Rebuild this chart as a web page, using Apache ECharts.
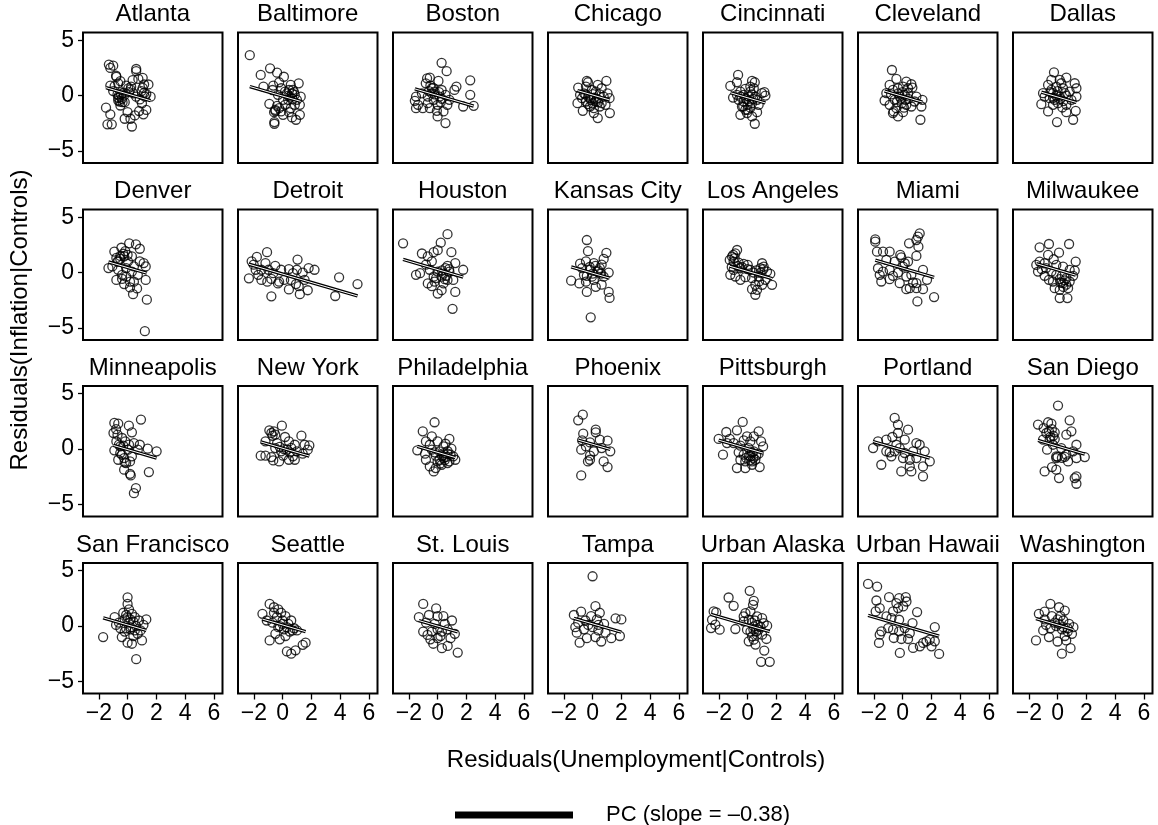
<!DOCTYPE html>
<html>
<head>
<meta charset="utf-8">
<title>Residuals by metro area</title>
<script src="https://cdn.jsdelivr.net/npm/echarts@6/dist/echarts.min.js"></script>
<style>
  html, body { margin: 0; padding: 0; background: #fff; }
  #chart { width: 1158px; height: 825px; }
</style>
</head>
<body>
<div id="chart"></div>
<script>
// ---- data ----------------------------------------------------------
const cities = ['Atlanta', 'Baltimore', 'Boston', 'Chicago', 'Cincinnati', 'Cleveland', 'Dallas',
  'Denver', 'Detroit', 'Houston', 'Kansas City', 'Los Angeles', 'Miami', 'Milwaukee',
  'Minneapolis', 'New York', 'Philadelphia', 'Phoenix', 'Pittsburgh', 'Portland', 'San Diego',
  'San Francisco', 'Seattle', 'St. Louis', 'Tampa', 'Urban Alaska', 'Urban Hawaii', 'Washington'];

const xTicks = [-2, 0, 2, 4, 6];
const yTicks = [-5, 0, 5];
const pcSlope = -0.38;
const pcLabel = 'PC (slope = \u20130.38)';

// intercept of the pooled-slope line in each city
const lineIntercepts = [0.14, -0.05, 0, 0.05, -0.2, -0.07, -0.13,
  0.45, -0.14, 0.27, -0.06, 0.1, 0.4, 0.24,
  -0.05, 0.07, -0.3, 0.43, 0.04, -0.1, 0.26,
  0.1, 0.1, 0, 0.2, 0.08, 0.05, 0.1];

// [unemployment residual, inflation residual]
const atlanta = [[-1.3,2.8],[-1.0,2.7],[-1.2,2.5],[-0.8,1.8],[-0.5,1.3],[-1.2,0.9],[-1.0,0.4],[-0.7,0.1],[-0.65,-0.2],[-0.4,-0.3],[-0.5,-0.9],[-0.2,-0.6],[-0.25,0],[0.05,0.65],[0.25,0.8],[0.6,2.4],[0.6,2.2],[0.35,1.4],[0.75,1.5],[1.05,1.6],[1.45,1.0],[1.15,1.0],[0.97,0.4],[1.3,0.13],[1.6,-0.1],[1.0,-0.7],[1.3,-1.3],[1.1,-1.7],[0.8,-1.4],[0.5,-1.8],[0.2,-2.1],[0.3,-2.8],[-0.2,-2.1],[0,-1.5],[-1.5,-1.1],[-1.2,-1.7],[-1.4,-2.6],[-1.1,-2.6],[0.4,0.2],[0.6,-0.1],[1.05,0.7],[-0.9,0.85],[-0.3,0.25],[0.1,0.3],[0.85,-0.35],[-0.65,-0.45],[-0.78,1.7],[-0.65,1.1],[-0.6,0.0],[-0.45,0.1],[-0.55,-0.55],[-0.35,-0.6],[1.15,0.25],[1.2,-0.1],[0.2,0.55],[-0.1,0.9]];
const baltimore = [[-2.28,3.65],[-1.52,1.86],[-0.87,2.46],[-0.38,2.07],[0.09,1.7],[-1.33,0.8],[-0.65,0.9],[-0.1,0.66],[0.45,0.5],[1.12,1.1],[0.57,0.96],[0.3,0.2],[0.85,0.06],[1.26,-0.1],[-0.92,-0.75],[-0.38,-0.93],[-0.51,-1.29],[-0.59,-1.5],[-0.24,-1.14],[0.03,-1.74],[0.45,-1.5],[0.66,-1.98],[0.93,-2.19],[1.2,-1.74],[-0.57,-2.4],[-0.57,-2.55],[0.17,-0.84],[0.85,-0.84],[1.2,-0.84],[1.0,-0.39],[0.03,-0.39],[0.39,-0.39],[0.66,0.2],[-0.32,0.06],[-0.7,0.5],[-0.24,1.2],[0.17,0.36],[0.71,0.5],[0.57,-1.14],[-0.1,-1.44],[0.5,-0.1],[0.7,-0.3],[0.4,0.0],[0.8,0.3],[-0.5,-1.4]];
const boston = [[0.28,2.96],[0.63,2.2],[-0.73,1.56],[-0.54,1.62],[0.06,1.32],[2.27,1.38],[1.31,0.81],[1.17,0.51],[-0.4,0.66],[-0.21,0.36],[-1.09,0.2],[-1.5,-0.09],[-1.58,-0.48],[-1.36,-0.84],[-1.03,-1.14],[-1.5,-1.14],[-0.68,-0.09],[-0.27,-0.39],[0.14,-0.09],[0.55,0.06],[0.82,-0.39],[-0.54,-1.14],[-0.05,-1.38],[0.41,-1.44],[0,-1.89],[0.55,-2.49],[2.27,0.06],[1.78,-0.99],[2.51,-0.93],[-0.68,-0.69],[0,-0.84],[0.68,-0.84],[-0.82,1.1],[0.22,-0.6],[-0.4,0.2],[0.28,0.5],[-0.5,0.9],[-0.3,0.7],[-0.2,0.1],[0.1,0.3],[-0.6,0.4],[0.3,-0.3]];
const chicago = [[-0.4,1.32],[-0.32,1.2],[0.96,1.32],[-1.0,0.72],[0.36,0.96],[0.63,0.66],[-0.05,0.5],[-0.6,0.2],[1.18,-0.24],[-1.05,-0.69],[-0.68,-1.38],[0.09,-1.14],[0.5,-0.99],[0.36,-2.04],[1.2,-1.59],[-0.32,-0.78],[0.22,-0.54],[0.77,-0.09],[-0.18,-0.24],[-0.73,-0.24],[-0.46,-0.54],[0.63,-0.69],[0.09,-1.59],[0.03,0.12],[1.04,0.2],[-0.87,0.06],[0.22,0.36],[-0.18,-0.99],[0.9,-0.84],[-0.46,0.81],[-0.1,-0.4],[0.1,-0.2],[0.3,-0.3],[-0.3,-0.1],[0.0,-0.7],[0.4,-0.6],[-0.5,0.1],[0.5,0.1]];
const cincinnati = [[-0.66,1.86],[-1.2,0.87],[-0.74,1.2],[0.31,1.32],[0.5,1.2],[1.17,0.3],[1.24,0],[1.0,0.21],[-1.01,-0.18],[-0.5,0.36],[-0.16,0.6],[0.19,0.81],[-0.27,-0.54],[0,-0.84],[0.31,-0.69],[0.66,-0.39],[-0.5,-1.74],[-0.04,-1.59],[0.31,-1.89],[0.5,-2.55],[0.66,-1.5],[-0.39,-0.99],[-0.16,-1.29],[-0.62,-0.39],[0.54,-0.09],[0.08,-0.09],[-0.27,0.06],[-0.74,0.06],[0.77,-0.84],[0.19,0.36],[0.43,0.66],[-0.1,-0.3],[0.1,-0.5],[0.2,-1.1],[-0.3,-1.0],[0.0,-1.3],[0.4,-0.3],[-0.5,-0.1],[0.3,0.1]];
const cleveland = [[-0.74,2.31],[-0.43,1.5],[0.26,1.26],[0.61,1.02],[0.68,0.72],[-0.9,0.96],[-0.67,0.51],[-0.32,0.66],[0.03,0.81],[-1.13,0.21],[-1.25,-0.45],[-0.9,-0.84],[-0.55,-0.39],[-0.2,-0.09],[0.38,0.21],[0.96,-0.09],[1.38,-0.39],[1.31,-0.99],[1.24,-2.19],[-0.67,-1.59],[-0.32,-1.89],[0.03,-1.5],[-0.62,-1.44],[0.26,-0.84],[0.61,-0.99],[-0.06,-0.69],[-0.43,-1.14],[0.84,-0.54],[0.15,0.06],[0.38,0.66],[-0.3,0.2],[0,0.3],[-0.1,-0.3],[0.2,-0.4],[-0.4,-0.6],[0.4,-0.3],[-0.8,0.1],[0.1,-1.1]];
const dallas = [[-0.25,2.1],[0.61,1.62],[0.15,1.41],[-0.43,1.41],[1.19,1.11],[1.31,0.66],[-0.66,0.96],[-0.09,0.81],[0.38,0.66],[-1.01,0.21],[-1.13,-0.78],[-0.66,-1.44],[-0.32,-0.84],[0.03,-0.69],[0.61,-0.84],[0.61,-1.5],[1.26,-1.38],[1.08,-2.19],[-0.04,-2.4],[1.31,-0.09],[0.96,-0.39],[-0.55,-0.24],[-0.9,-0.09],[0.15,-0.09],[0.5,0.21],[-0.32,0.21],[0.84,0.36],[-0.2,-0.39],[0.33,-1.08],[-0.43,0.51],[0.26,1.11],[-0.1,0],[0.2,-0.3],[-0.5,0.3],[0.4,-0.5],[-0.3,-0.2],[0.0,0.4],[0.6,0.0]];
const denver = [[-0.92,1.9],[-0.43,2.24],[0.11,2.64],[0.58,2.55],[0.85,2.15],[-0.16,1.93],[-0.78,1.32],[-0.51,1.23],[-0.24,1.47],[0.3,1.47],[0.85,1.01],[1.12,0.86],[1.26,0.55],[-1.33,0.4],[-1.06,0.55],[-0.65,0.25],[-0.1,0.4],[0.44,0.55],[-0.78,-0.67],[-0.38,-0.58],[-0.1,-0.37],[0.17,-0.83],[0.71,-0.21],[1.26,-0.67],[0.44,-0.83],[-0.24,-1.04],[0.17,-1.35],[0.66,-1.44],[0.38,-1.96],[1.34,-2.45],[1.2,-5.3],[-0.65,1.01],[0.03,1.01],[-0.38,-0.21],[0.3,0.09],[-0.5,1.5],[-0.3,1.7],[-0.7,1.0],[0.0,1.6]];
const detroit = [[-2.15,1.01],[-1.79,1.41],[-1.08,1.84],[-2.34,-0.52],[-1.69,-0.21],[-1.47,-0.67],[-1.87,0.25],[-1.19,0.86],[-0.98,0.25],[-0.51,0.61],[-0.78,-0.58],[-0.32,-0.98],[-0.78,-2.15],[-0.1,0.25],[0.44,0.31],[1.04,1.17],[0.99,0.25],[1.4,0],[1.81,0.4],[2.22,0.25],[0.58,-0.67],[0.93,-1.04],[0.44,-1.53],[1.2,-1.96],[1.75,-1.6],[1.12,-1.23],[0.11,-0.67],[3.93,-0.43],[5.21,-1.04],[3.66,-2.12],[-1.47,0.25],[-0.65,-0.06],[-0.24,-0.83],[0.72,-0.06],[1.53,-0.67],[-2.01,0.71],[-1.06,-0.83]];
const houston = [[-2.4,2.64],[0.69,3.47],[0.22,2.7],[0.01,2.02],[-0.27,1.84],[-1.09,1.72],[0.96,1.84],[1.23,0.86],[0.69,0.61],[-0.4,1.01],[-0.81,0.71],[1.78,0.25],[-1.5,-0.21],[-1.22,-0.06],[-0.68,-0.98],[-0.21,-0.83],[0.28,-0.37],[0.82,0.09],[0.69,-0.67],[0.01,-1.9],[0.28,-1.6],[1.23,-1.75],[1.04,-3.28],[-0.4,-1.23],[0.41,-0.98],[0,0.09],[-0.54,0.25],[1.09,-0.67],[-0.27,-0.37],[0.55,0.4],[-0.68,1.47],[0.4,-0.1],[0.6,-0.3],[0.8,0.3],[0.3,0.2],[-0.1,-0.5],[0.5,-0.6]];
const kansasCity = [[-0.4,2.94],[-0.32,1.93],[0.96,1.78],[0.77,1.23],[-0.87,0.8],[-0.46,1.01],[0.09,0.86],[0.63,0.71],[1.12,0],[-1.49,-0.74],[-0.92,-0.98],[-0.46,-0.83],[0.09,-0.67],[0.63,-1.1],[-0.4,-1.75],[1.12,-1.75],[1.18,-2.3],[-0.13,-4.05],[-0.18,0.25],[0.36,0.09],[-0.6,-0.21],[-0.05,-0.37],[0.77,-0.37],[-0.73,0.4],[0.22,-1.29],[0.5,0.4],[-0.2,0.5],[0.2,0.6],[0.4,0.2],[0.0,-0.1],[-0.4,-0.3],[0.6,-0.1]];
const losAngeles = [[-0.73,2.04],[-0.85,1.74],[-1.08,1.44],[-1.24,1.14],[-0.97,0.99],[-0.62,0.9],[-0.27,0.78],[0.01,0.69],[1.01,0.84],[1.12,0.54],[0.89,0.39],[1.58,-0.12],[1.7,-1.11],[-1.2,-0.21],[-0.85,-0.36],[-0.5,-0.66],[-0.15,-0.42],[0.31,-0.51],[0.54,-1.11],[0.31,-1.5],[0.66,-1.56],[0.54,-2.01],[1.01,-1.11],[1.24,-0.66],[0.78,-0.36],[-0.5,0.39],[0.19,0.24],[0.43,0],[-0.97,0.24],[1.35,0.09],[-0.9,1.3],[-1.0,1.6],[-0.7,0.6],[-0.4,0.5],[0.0,0.3],[0.6,0.2],[0.9,0.0],[1.1,0.3],[-1.1,0.5],[0.8,-0.8]];
const miami = [[-1.9,3.0],[-1.9,2.79],[1.19,3.54],[1.07,3.24],[0.96,2.94],[0.45,2.64],[1.1,2.34],[-1.78,1.89],[-1.36,1.89],[-0.9,1.89],[-0.16,1.59],[-0.09,1.38],[0.96,1.5],[-1.13,1.14],[-0.55,0.99],[0.15,0.84],[-1.71,0.39],[-1.36,0.09],[-0.9,0.24],[-0.32,0],[-1.59,-0.21],[-0.9,-0.6],[-0.67,-0.3],[-0.2,-0.96],[0.26,-0.36],[0.61,-0.21],[0.96,-0.96],[0.73,-0.9],[1.7,-0.66],[0.5,-1.41],[0.96,-1.41],[1.42,-1.5],[0.26,-1.5],[1.03,-2.61],[2.19,-2.22],[0.03,0.54],[-1.48,-0.81],[1.42,0.24],[0.38,0.99]];
const milwaukee = [[-1.25,2.28],[-0.6,2.58],[0.8,2.58],[-0.66,1.59],[0.1,1.8],[-0.27,1.2],[1.26,0.99],[-1.25,0.99],[-1.48,0.69],[-0.9,0.84],[-0.09,0.69],[0.38,0.54],[0.84,0.24],[1.19,0.18],[-1.36,0.09],[-0.9,-0.3],[-0.6,-0.66],[-0.32,-0.81],[0.15,-0.6],[0.61,-0.51],[1.08,-0.3],[-0.2,-1.41],[0.15,-1.56],[0.73,-1.41],[0.15,-2.31],[0.68,-2.31],[-0.43,0.09],[0.38,-0.96],[-0.09,-0.21],[0.84,-0.81],[0.3,-0.3],[0.5,-0.7],[0.2,-0.9],[0.6,-1.1],[0.4,-1.3],[-0.8,0.4],[-1.1,0.3]];
const minneapolis = [[-0.92,2.36],[-0.65,2.3],[0.93,2.66],[0.09,2.11],[-0.98,1.45],[-0.7,1.3],[0.3,1.51],[-0.78,0.69],[-0.16,0.69],[0.44,0.54],[0.85,0.39],[1.4,0.03],[2.02,-0.21],[-0.92,-0.12],[-0.51,-0.36],[-0.24,-0.82],[-0.65,-0.97],[0.17,-1.12],[0.3,-0.66],[-0.24,-1.87],[0.17,-2.24],[0.22,-2.39],[1.48,-2.08],[0.58,-3.53],[0.44,-3.99],[-0.51,0.24],[0.03,-0.06],[0.71,-0.06],[-0.38,1.0],[-0.1,-1.27],[-0.8,1.8],[-0.6,0.4],[-0.3,0.3],[0.1,0.4],[-0.4,-0.5],[-0.2,-1.2]];
const newYork = [[-0.92,1.69],[-0.78,1.45],[-0.05,2.11],[-0.51,1.3],[0.17,1.09],[1.31,1.21],[-1.19,0.69],[-0.38,0.54],[0.44,0.69],[0.85,0.39],[1.53,0.39],[1.86,0.33],[1.75,-0.06],[-1.52,-0.6],[-1.19,-0.6],[-0.78,-0.73],[-0.65,-1.03],[-0.24,-1.12],[0.44,-0.97],[0.85,-0.97],[-0.1,-0.21],[0.3,-0.06],[0.99,-0.21],[-0.51,0.09],[0.72,-0.66],[0.03,-0.6],[1.4,-0.42],[-0.6,1.6],[-0.7,1.2],[-0.2,0.2],[0.1,0.0],[0.5,-0.3],[0.6,0.1]];
const philadelphia = [[-0.21,2.42],[-1.03,1.6],[-0.4,1.15],[0.82,0.91],[-0.81,0.69],[0,0.69],[0.55,0.48],[-1.41,-0.12],[-0.87,-0.42],[-0.4,-0.06],[0.14,-0.21],[0.69,-0.42],[1.09,-0.66],[1.23,-0.97],[-0.81,-0.97],[-0.54,-1.57],[-0.27,-2.02],[-0.13,-1.72],[0.28,-1.42],[0.69,-1.27],[0,-1.12],[0.41,-0.82],[-0.13,-0.6],[0.96,0.03],[0.41,0.24],[-0.54,0.39],[0.14,-0.97],[0.82,-1.12],[0.3,-0.6],[0.5,-1.0],[0.6,-0.7],[0.2,-1.3],[0.7,-0.2],[0.4,-0.4],[-0.2,-0.3],[0.9,-0.5]];
const phoenix = [[-1.0,2.6],[-0.68,3.11],[-0.65,1.39],[0.22,1.75],[0.22,1.51],[0.5,0.85],[1.04,0.76],[-0.73,0.79],[-0.18,0.6],[-0.79,-0.06],[0.63,0.09],[1.23,-0.21],[-0.18,-0.6],[-0.18,-0.97],[-0.32,-1.12],[0.77,-1.12],[1.04,-1.63],[-0.79,-2.39],[0.09,-0.21],[-0.46,0.24]];
const pittsburgh = [[-0.34,2.45],[-1.48,1.54],[-0.74,1.69],[0.77,1.6],[-2.01,0.91],[-1.24,0.91],[-0.04,1.15],[0.43,1.15],[0.19,0.69],[0.94,0.69],[1.08,0.24],[-1.71,-0.51],[-0.62,-0.3],[-0.27,-0.51],[-0.5,-0.97],[-0.16,-1.12],[-0.74,-1.72],[-0.16,-1.72],[0.31,-1.42],[0.84,-1.63],[0.54,-0.97],[0.19,-0.66],[0.77,-0.42],[-0.5,0.3],[0.08,0.09],[0.43,-0.21],[-0.27,0.79],[-0.97,0.54],[-1.43,0.54],[0.31,-1.12],[0.1,-0.6],[0.3,-0.3],[-0.1,-0.8],[0.4,-0.8],[0.6,-0.6],[0.2,-1.0]];
const portland = [[-0.55,2.81],[-0.32,2.21],[0.38,1.75],[-2.05,0.09],[-1.71,0.69],[-1.13,0.85],[-0.71,1.09],[-0.32,1.45],[0.15,0.85],[0.96,0.54],[1.19,0.39],[-1.48,-1.42],[-1.13,-0.21],[-0.78,-0.66],[-0.55,-0.21],[-0.2,0.09],[0.15,-0.36],[0.03,-0.82],[0.5,-0.97],[0.96,-0.82],[1.54,-0.21],[1.89,-1.12],[-0.09,-2.02],[0.61,-2.02],[1.42,-1.57],[1.42,-2.48],[0.5,-1.57],[-0.43,0.39],[-0.9,-0.3],[0.73,-0.21]];
const sanDiego = [[0.03,3.93],[-1.36,2.21],[-0.97,1.9],[-0.66,2.42],[-0.43,2.3],[0.84,2.6],[0.96,1.6],[0.61,1.3],[-0.78,1.45],[-0.2,1.51],[-1.01,0.85],[-0.55,0.85],[1.31,0.39],[1.89,-0.73],[-0.73,-0.06],[-0.09,-0.66],[-0.09,-0.82],[0.61,-0.51],[1.31,-0.82],[0.73,-1.12],[-0.9,-2.02],[-0.39,-1.63],[-0.09,-1.87],[0.1,-2.63],[1.19,-2.63],[1.31,-2.48],[1.31,-3.14],[0.26,0.09],[-0.32,0.39],[1.08,-0.21],[-0.6,1.6],[-0.4,1.8],[-0.3,1.2],[-0.5,1.1],[-0.2,0.9],[0.0,-0.7],[0.3,-0.8],[0.5,-0.7]];
const sanFrancisco = [[-1.7,-1.0],[-0.9,0.8],[-0.6,0.3],[-0.3,1.2],[0,2.6],[0,2.0],[0.1,1.5],[-0.1,1.0],[0.3,1.1],[0.5,0.8],[0.8,0.5],[1.3,0.6],[-0.5,-0.2],[-0.2,-0.5],[0.2,-0.3],[0.6,0],[0.9,-0.4],[0.4,-0.9],[-0.4,-1.0],[0,-1.5],[0.3,-1.6],[0.6,-3.0],[1.0,-1.3],[-0.8,0.1],[0.1,0.3],[0.4,0.4],[-0.2,0.6],[0.7,-0.7],[1.1,0.1],[0.2,-0.1],[0.0,0.8],[0.2,0.6],[-0.1,-0.2],[0.5,-0.4]];
const seattle = [[-1.4,1.1],[-0.9,2.0],[-0.6,1.7],[-0.3,1.5],[-0.1,1.2],[0.2,0.9],[-1.1,0.5],[-0.7,0.3],[-0.4,0.8],[0,0.5],[0.4,0.2],[0.8,-0.2],[1.0,-0.4],[-0.2,0],[0.1,-0.3],[0.5,-0.5],[-0.5,-0.7],[-0.9,-1.3],[-0.2,-1.2],[0.3,-2.3],[0.6,-2.5],[0.9,-2.2],[1.4,-1.7],[1.6,-1.5],[0.2,-0.9],[-0.6,1.2],[0.6,0.5],[-0.3,-0.1],[0.3,-0.1],[0.7,-0.4],[0.0,0.2]];
const stLouis = [[-1.3,0.8],[-1.0,2.0],[-0.1,1.6],[-0.6,1.0],[0,0.9],[0.4,0.9],[1.0,0.5],[-1.0,-0.5],[-0.7,-0.8],[-0.4,-0.5],[0,-0.3],[0.3,-0.5],[0.7,-0.3],[1.2,-0.7],[-0.5,-1.2],[0,-1.1],[0.3,-2.0],[0.7,-1.8],[1.4,-2.4],[-0.8,0.3],[-0.2,0.2],[0.5,0.2],[0.2,-0.9],[-0.3,-1.6],[0.9,-1.1]];
const tampa = [[0,4.5],[-1.3,1.0],[-0.8,1.3],[0.2,1.8],[0.5,1.2],[-1.0,0.3],[-0.5,0.5],[-0.1,0.9],[0.3,0.6],[0.8,0.2],[1.6,0.7],[2.0,0.6],[-1.1,-0.6],[-0.6,-0.3],[0,-0.1],[0.4,-0.4],[0.9,-0.6],[1.9,-0.9],[-0.9,-1.5],[-0.4,-1.1],[0.2,-1.0],[0.6,-1.4],[1.3,-1.1],[-0.3,0.1],[0.4,0.1],[-1.2,-0.1]];
const urbanAlaska = [[0.15,3.18],[-1.32,2.58],[-0.97,1.83],[0.43,2.28],[0.38,1.92],[-2.36,1.32],[-2.18,1.23],[-2.47,0.57],[-2.24,0.12],[-2.54,-0.18],[-1.94,-0.33],[-0.85,-0.27],[-0.15,1.17],[0.2,1.32],[0.66,0.87],[1.01,0.72],[1.36,0.03],[-0.27,0.42],[0.08,0.57],[-0.04,-0.33],[0.43,-0.03],[0.78,-0.33],[1.01,-0.78],[1.31,-1.17],[0.08,-1.38],[0.55,-1.68],[0.43,-1.23],[1.16,-2.22],[0.94,-3.24],[1.54,-3.24],[-0.27,0.87],[0.66,-0.78],[1.12,0.27],[0.31,-0.93],[0.3,0.3],[0.5,0.5],[0.2,-0.5],[0.6,-0.5],[0.9,-0.1],[0.4,-0.3],[0.7,0.1]];
const urbanHawaii = [[-2.4,3.81],[-1.77,3.57],[-1.82,2.31],[-0.94,2.61],[-0.24,2.52],[0.22,2.61],[0.27,2.22],[-1.59,1.62],[-1.87,1.32],[-0.66,1.32],[-0.31,1.62],[0.04,1.77],[1.01,1.26],[-0.77,0.72],[-0.24,0.57],[-1.47,-0.48],[-1.0,-0.18],[-0.66,-0.33],[-0.24,-0.48],[0.15,-0.18],[0.5,-0.63],[-1.59,-0.78],[-0.61,-1.08],[-0.08,-1.17],[0.38,-1.17],[-1.64,-1.53],[-0.19,-2.43],[0.73,-1.98],[1.2,-1.83],[1.66,-1.38],[2.01,-1.83],[2.24,-1.38],[2.24,-0.09],[2.54,-2.52],[1.43,-1.53],[1.89,-1.23],[0.69,0.27],[-1.12,0.87],[-0.43,2.07]];
const washington = [[-1.3,1.1],[-0.9,1.3],[-0.5,2.0],[0.1,1.7],[0.5,1.4],[-0.9,0.6],[-0.4,0.9],[0,0.6],[0.4,0.5],[0.8,0.2],[1.1,-0.1],[-1.5,-1.3],[-1.0,-0.4],[-0.5,-0.2],[-0.1,0],[0.3,-0.3],[0.7,-0.5],[1.0,-0.7],[-0.6,-1.0],[0,-1.4],[0.3,-2.5],[0.9,-2.0],[0.6,-1.3],[-0.2,0.3],[0.5,-0.9],[-0.8,0.1],[0.2,0.9],[0.4,-0.1],[0.7,-0.2],[0.1,0.2]];

const cityPoints = [atlanta, baltimore, boston, chicago, cincinnati, cleveland, dallas,
  denver, detroit, houston, kansasCity, losAngeles, miami, milwaukee,
  minneapolis, newYork, philadelphia, phoenix, pittsburgh, portland, sanDiego,
  sanFrancisco, seattle, stLouis, tampa, urbanAlaska, urbanHawaii, washington];

// ---- layout ---------------------------------------------------------
const FONT = '"Liberation Sans", Arial, Helvetica, sans-serif';
const NCOL = 7;
const panelLeft0 = 83, panelPitchX = 155, panelW = 139.5;
const rowTops = [32.5, 209.5, 386, 563];
const panelH = 130.5;
const xRange = [-3.1, 6.6];
const yRange = [-6.1, 5.7];

const fmtNum = v => (v < 0 ? '\u2212' + Math.abs(v) : String(v));

const grids = [], xAxes = [], yAxes = [], series = [], titles = [];

cities.forEach((name, i) => {
  const r = Math.floor(i / NCOL), c = i % NCOL;
  const left = panelLeft0 + c * panelPitchX;
  const top = rowTops[r];
  const isBottom = r === rowTops.length - 1;
  const isLeft = c === 0;

  grids.push({
    left: left, top: top, width: panelW, height: panelH,
    show: true, borderColor: '#000', borderWidth: 2, backgroundColor: 'transparent'
  });

  xAxes.push({
    gridIndex: i, type: 'value', min: xRange[0], max: xRange[1], position: 'bottom',
    axisLine: { show: false, onZero: false }, splitLine: { show: false },
    axisTick: { show: isBottom, customValues: xTicks, length: 6, lineStyle: { color: '#000', width: 1.3 } },
    axisLabel: { show: isBottom, customValues: xTicks, formatter: fmtNum, fontSize: 23,
      color: '#000', fontFamily: FONT, margin: 9 }
  });

  yAxes.push({
    gridIndex: i, type: 'value', min: yRange[0], max: yRange[1], position: 'left',
    axisLine: { show: false, onZero: false }, splitLine: { show: false },
    axisTick: { show: isLeft, customValues: yTicks, length: 5, lineStyle: { color: '#000', width: 1.3 } },
    axisLabel: { show: isLeft, customValues: yTicks, formatter: fmtNum, fontSize: 23,
      color: '#000', fontFamily: FONT, margin: 9 }
  });

  titles.push({
    text: name, left: left + panelW / 2, top: top - 30, textAlign: 'center', padding: 0,
    textStyle: { fontSize: 24, fontWeight: 'normal', color: '#000', fontFamily: FONT }
  });

  const pts = cityPoints[i];
  series.push({
    type: 'scatter', xAxisIndex: i, yAxisIndex: i, data: pts,
    symbol: 'circle', symbolSize: 9, silent: true, z: 2,
    itemStyle: { color: 'rgba(0,0,0,0)', borderColor: '#000', borderWidth: 1.3 }
  });

  // pooled-slope fit across the city's range of unemployment residuals
  const xs = pts.map(p => p[0]);
  const x0 = Math.min(...xs), x1 = Math.max(...xs);
  const a = lineIntercepts[i];
  const fit = [[x0, a + pcSlope * x0], [x1, a + pcSlope * x1]];
  series.push({
    type: 'line', name: pcLabel, xAxisIndex: i, yAxisIndex: i, data: fit,
    symbol: 'none', silent: true, z: 3, color: '#000',
    lineStyle: { color: '#000', width: 3.4 }
  });
  series.push({
    type: 'line', xAxisIndex: i, yAxisIndex: i, data: fit,
    symbol: 'none', silent: true, z: 4,
    lineStyle: { color: '#fff', width: 1.0 }
  });
});

const chart = echarts.init(document.getElementById('chart'), null, { renderer: 'canvas' });
chart.setOption({
  animation: false,
  backgroundColor: '#fff',
  title: titles,
  grid: grids,
  xAxis: xAxes,
  yAxis: yAxes,
  series: series,
  legend: {
    data: [pcLabel], left: 450, top: 799, icon: 'rect', itemWidth: 118, itemHeight: 7,
    selectedMode: false,
    textStyle: { fontSize: 22, color: '#000', fontFamily: FONT, padding: [0, 0, 0, 28] }
  },
  graphic: [
    {
      type: 'text', x: 636, y: 760,
      style: { text: 'Residuals(Unemployment|Controls)', font: '24px ' + FONT,
        fill: '#000', align: 'center', verticalAlign: 'middle' }
    },
    {
      type: 'text', x: 20, y: 320, rotation: Math.PI / 2,
      style: { text: 'Residuals(Inflation|Controls)', font: '24px ' + FONT,
        fill: '#000', align: 'center', verticalAlign: 'middle' }
    }
  ]
});
</script>
</body>
</html>
